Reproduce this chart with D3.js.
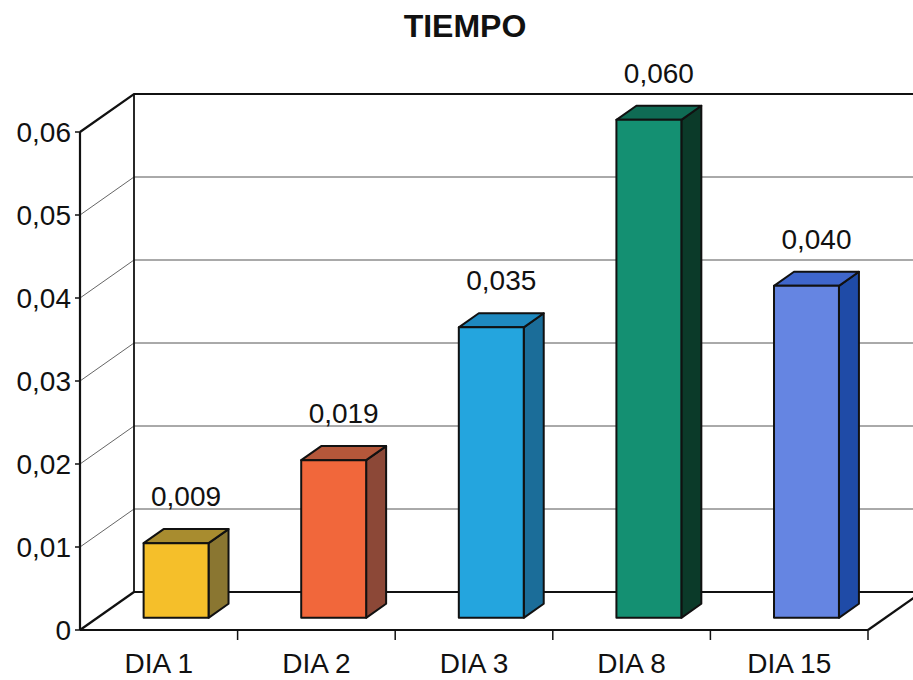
<!DOCTYPE html>
<html>
<head>
<meta charset="utf-8">
<script src="https://cdn.jsdelivr.net/npm/d3@7"></script>
<style>
  html, body { margin: 0; padding: 0; background: #fff; }
  svg { display: block; font-family: "Liberation Sans", Arial, sans-serif; }
</style>
</head>
<body>
<svg id="chart" width="913" height="680"></svg>
<script>
// Data
const categories = ["DIA 1", "DIA 2", "DIA 3", "DIA 8", "DIA 15"];
const values = [0.009, 0.019, 0.035, 0.060, 0.040];
const valueLabels = ["0,009", "0,019", "0,035", "0,060", "0,040"];
const yTicks = [0, 0.01, 0.02, 0.03, 0.04, 0.05, 0.06];
const yTickLabels = ["0", "0,01", "0,02", "0,03", "0,04", "0,05", "0,06"];
const frontColors = ["#f5bf2a", "#f1673b", "#24a5de", "#149072", "#6585e2"];
const sideColors  = ["#8a7631", "#8c4837", "#1b6d99", "#0b3a29", "#1f4ba7"];
const topColors   = ["#a88c2f", "#b4573a", "#1e89bf", "#0f6b54", "#3f66cc"];

// Layout of the 3D box
const svg = d3.select("#chart");
const DX = 54, DY = 38;                 // depth offset of back wall
const x0 = 80, x1 = 868;                // front floor extent
const y = d3.scaleLinear().domain([0, 0.06]).range([630, 132]);
const xCat = d3.scaleBand().domain(categories).range([x0, x1]).padding(0);
const xBar = d3.scaleBand().domain(categories).range([x0, x1])
  .paddingInner(0.588).paddingOuter(0.294);
const d0 = 0.32, d1 = 0.69;             // bar depth fractions

const P = (x, v, d) => [x + d * DX, y(v) - d * DY];
const line = d3.line();

// Title
svg.append("text").attr("x", 465).attr("y", 37)
  .attr("text-anchor", "middle").attr("font-weight", "bold")
  .attr("font-size", 32).attr("fill", "#111").text("TIEMPO");

// Side wall gridlines
const g = svg.append("g");
yTicks.filter(t => t > 0 && t < 0.06).forEach(t => {
  g.append("path").attr("d", line([P(x0, t, 0), P(x0, t, 1)]))
    .attr("stroke", "#666").attr("stroke-width", 1).attr("fill", "none");
});
// Back wall gridlines
yTicks.filter(t => t > 0 && t < 0.06).forEach(t => {
  g.append("path").attr("d", line([P(x0, t, 1), P(x1, t, 1)]))
    .attr("stroke", "#555").attr("stroke-width", 1).attr("fill", "none");
});

// Wall and floor edges
const edge = (pts, w) => g.append("path").attr("d", line(pts))
  .attr("stroke", "#111").attr("stroke-width", w).attr("fill", "none")
  .attr("stroke-linejoin", "miter");
edge([P(x0, 0.06, 0), P(x0, 0.06, 1), P(x1, 0.06, 1)], 2.2);  // top edges
edge([P(x0, 0, 1), P(x0, 0.06, 1)], 1.8);                     // back corner
edge([P(x0, 0, 1), P(x1, 0, 1)], 1.8);                        // back floor
edge([P(x0, 0, 0), P(x0, 0, 1)], 2.2);                        // left floor diag
edge([P(x1, 0, 0), P(x1, 0, 1)], 2.2);                        // right floor diag
edge([P(x0, 0, 0), P(x1, 0, 0)], 2.2);                        // front floor
edge([P(x0, 0, 0), P(x0, 0.06, 0)], 2.2);                     // value axis

// Value axis ticks and labels
yTicks.forEach((t, i) => {
  g.append("path").attr("d", line([[x0 - 5, y(t)], [x0, y(t)]]))
    .attr("stroke", "#111").attr("stroke-width", 1.5);
  svg.append("text").attr("x", 71).attr("y", y(t)).attr("dy", "0.36em")
    .attr("text-anchor", "end").attr("font-size", 28).attr("fill", "#111")
    .text(yTickLabels[i]);
});

// Category ticks and labels
categories.forEach((c, i) => {
  const xb = xCat(c) + xCat.bandwidth();
  g.append("path").attr("d", line([[xb, y(0)], [xb, y(0) + 10]]))
    .attr("stroke", "#111").attr("stroke-width", 1.5);
  svg.append("text").attr("x", xCat(c) + xCat.bandwidth() / 2).attr("y", 673)
    .attr("text-anchor", "middle").attr("font-size", 28).attr("fill", "#111")
    .text(c);
});

// Bars
const bars = svg.append("g");
categories.forEach((c, i) => {
  const v = values[i];
  const xl = xBar(c), xr = xBar(c) + xBar.bandwidth();
  const face = (pts, fill) => bars.append("path").attr("d", line(pts) + "Z")
    .attr("fill", fill).attr("stroke", "#111").attr("stroke-width", 2)
    .attr("stroke-linejoin", "round");
  // right side
  face([P(xr, 0, d0), P(xr, 0, d1), P(xr, v, d1), P(xr, v, d0)], sideColors[i]);
  // top
  face([P(xl, v, d0), P(xl, v, d1), P(xr, v, d1), P(xr, v, d0)], topColors[i]);
  // front
  face([P(xl, 0, d0), P(xr, 0, d0), P(xr, v, d0), P(xl, v, d0)], frontColors[i]);

  const [lx, ly] = P((xl + xr) / 2, v, (d0 + d1) / 2);
  svg.append("text").attr("x", lx).attr("y", ly - 30)
    .attr("text-anchor", "middle").attr("font-size", 28).attr("fill", "#111")
    .text(valueLabels[i]);
});
</script>
</body>
</html>
